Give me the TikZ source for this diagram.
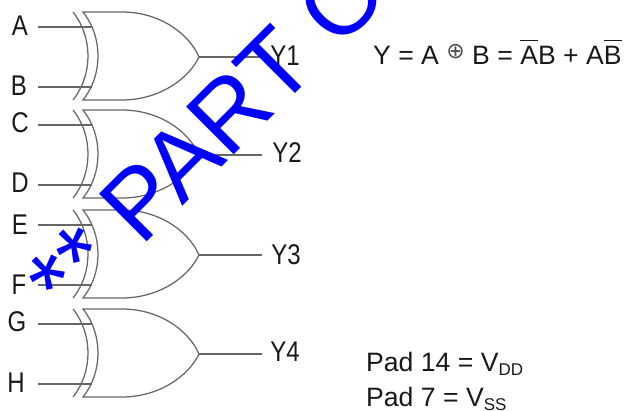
\documentclass[tikz,border=0pt]{standalone}
\usepackage{fontspec}
\setmainfont{Liberation Sans}
\newfontfamily\symfont{DejaVu Sans}
\newlength{\olwd}
\newcommand{\olbar}[1]{\settowidth{\olwd}{#1}\rlap{\raisebox{0.92em}{\rule{\olwd}{1pt}}}#1}
\newcommand{\tall}[1]{\scalebox{0.96}[1.14]{#1}}
\newcommand{\gatesym}[2]{%
  \begin{scope}[shift={(0,#2)}]
    \coordinate (#1in1) at (38,15);
    \coordinate (#1in1e) at (92,15);
    \coordinate (#1in2) at (38,75);
    \coordinate (#1in2e) at (92,75);
    \coordinate (#1out) at (199,45);
    \coordinate (#1oute) at (262,45);
    \draw[gateline] (73,0) .. controls (93,25) and (93,63) .. (73,88);
    \draw[gateline] (83,0) -- (122,0) .. controls (158,0) and (188,20) .. (199,45)
      .. controls (188,68) and (158,88) .. (122,88) -- (83,88)
      .. controls (103,63) and (103,25) .. (83,0) -- cycle;
    \draw[gateline] (#1in1) -- (#1in1e);
    \draw[gateline] (#1in2) -- (#1in2e);
    \draw[gateline] (#1out) -- (#1oute);
  \end{scope}}
\tikzset{
  gateline/.style={draw=black!60,line width=1.25pt},
  lab/.style={inner sep=0pt,text=black!90,font=\fontsize{25}{25}\selectfont,anchor=base},
  formula/.style={inner sep=0pt,text=black!90,font=\fontsize{26.6}{27}\selectfont,anchor=base west},
  stamp/.style={inner sep=0pt,text=blue,font=\fontsize{98}{98}\selectfont,anchor=base west,rotate=45}
}
\begin{document}
\begin{tikzpicture}[x=1pt,y=-1pt]
\useasboundingbox (0,0) rectangle (624,411);
\gatesym{a}{12}
\gatesym{b}{110}
\gatesym{c}{210}
\gatesym{d}{309}
\node[lab] (A) at (20,36) {\tall{A}};
\node[lab] (B) at (19,96) {\tall{B}};
\node[lab] (C) at (20,133) {\tall{C}};
\node[lab] (D) at (20,193) {\tall{D}};
\node[lab] (E) at (20,235) {\tall{E}};
\node[lab] (F) at (19,295) {\tall{F}};
\node[lab] (G) at (17,332) {\tall{G}};
\node[lab] (H) at (16,393) {\tall{H}};
\node[lab] (Y1) at (285,66) {\tall{Y1}};
\node[lab] (Y2) at (287,163) {\tall{Y2}};
\node[lab] (Y3) at (286,265) {\tall{Y3}};
\node[lab] (Y4) at (285,362) {\tall{Y4}};
\node[formula] (eq) at (373,65) {Y = A \raisebox{0.25em}{\symfont\fontsize{22}{22}\selectfont\textcolor{black!70}{⊕}} B = \olbar{A}B + A\olbar{B}};
\node[formula] (pd) at (366,372) {Pad 14 = V\raisebox{-0.14em}{\fontsize{17}{17}\selectfont DD}};
\node[formula] (ps) at (366,407) {Pad 7 = V\raisebox{-0.14em}{\fontsize{17}{17}\selectfont SS}};
\begin{scope}
\clip (0,0) rectangle (624,411);
\node[stamp] (wm) at (68,321) {** PART O};
\end{scope}
\end{tikzpicture}
\end{document}
